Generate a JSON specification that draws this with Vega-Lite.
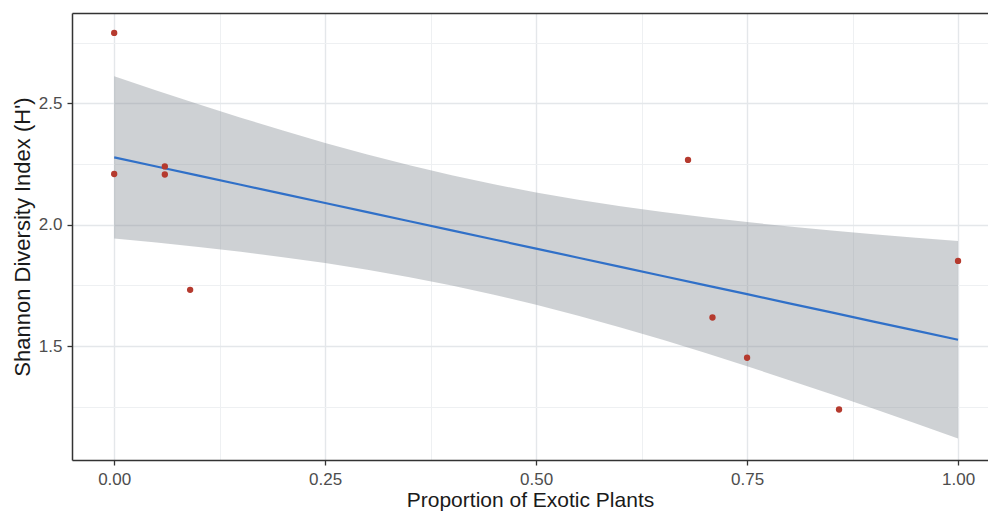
{
  "$schema": "https://vega.github.io/schema/vega-lite/v6.json",
  "width": 916,
  "height": 447,
  "autosize": {"type": "none"},
  "padding": {"left": 72, "top": 13, "right": 0, "bottom": 54},
  "background": "white",
  "config": {"view": {"stroke": null}, "font": "Liberation Sans"},
  "datasets": {
    "points": [
      {"x": 0.0, "y": 2.79},
      {"x": 0.0, "y": 2.209},
      {"x": 0.06, "y": 2.24},
      {"x": 0.06, "y": 2.207},
      {"x": 0.09, "y": 1.732},
      {"x": 0.68, "y": 2.267},
      {"x": 0.709, "y": 1.618},
      {"x": 0.75, "y": 1.452},
      {"x": 0.859, "y": 1.239},
      {"x": 1.0, "y": 1.851}
    ],
    "band": [
      {"x": 0.0, "fit": 2.2773, "lo": 1.943, "hi": 2.611},
      {"x": 0.05, "fit": 2.2397, "lo": 1.9265, "hi": 2.5529},
      {"x": 0.1, "fit": 2.2022, "lo": 1.9083, "hi": 2.4961},
      {"x": 0.15, "fit": 2.1646, "lo": 1.8884, "hi": 2.4408},
      {"x": 0.2, "fit": 2.1271, "lo": 1.8664, "hi": 2.3878},
      {"x": 0.25, "fit": 2.0895, "lo": 1.8419, "hi": 2.3371},
      {"x": 0.3, "fit": 2.0519, "lo": 1.8146, "hi": 2.2892},
      {"x": 0.35, "fit": 2.0144, "lo": 1.784, "hi": 2.2448},
      {"x": 0.4, "fit": 1.9768, "lo": 1.7499, "hi": 2.2037},
      {"x": 0.45, "fit": 1.9393, "lo": 1.7121, "hi": 2.1665},
      {"x": 0.5, "fit": 1.9017, "lo": 1.6705, "hi": 2.1329},
      {"x": 0.55, "fit": 1.8641, "lo": 1.6253, "hi": 2.1029},
      {"x": 0.6, "fit": 1.8266, "lo": 1.5771, "hi": 2.0761},
      {"x": 0.65, "fit": 1.789, "lo": 1.526, "hi": 2.052},
      {"x": 0.7, "fit": 1.7515, "lo": 1.4726, "hi": 2.0304},
      {"x": 0.75, "fit": 1.7139, "lo": 1.417, "hi": 2.0108},
      {"x": 0.8, "fit": 1.6763, "lo": 1.3598, "hi": 1.9928},
      {"x": 0.85, "fit": 1.6388, "lo": 1.3013, "hi": 1.9763},
      {"x": 0.9, "fit": 1.6012, "lo": 1.2416, "hi": 1.9608},
      {"x": 0.95, "fit": 1.5637, "lo": 1.181, "hi": 1.9464},
      {"x": 1.0, "fit": 1.5261, "lo": 1.1196, "hi": 1.9326}
    ]
  },
  "resolve": {"axis": {"x": "independent"}},
  "layer": [
    {
      "data": {"name": "band"},
      "mark": {"type": "area", "fill": "#858d94", "opacity": 0.4},
      "encoding": {
        "x": {
          "field": "x", "type": "quantitative",
          "scale": {"domain": [-0.05, 1.0355], "nice": false, "zero": false},
          "axis": {
            "orient": "bottom",
            "title": "Proportion of Exotic Plants",
            "values": [0, 0.125, 0.25, 0.375, 0.5, 0.625, 0.75, 0.875, 1],
            "labelExpr": "datum.value % 0.25 == 0 ? format(datum.value, '.2f') : ''",
            "grid": true,
            "gridColor": {"condition": {"test": "datum.value % 0.25 != 0", "value": "#eef0f2"}, "value": "#e4e7ea"},
            "gridWidth": {"condition": {"test": "datum.value % 0.25 != 0", "value": 1.1}, "value": 1.4},
            "tickOpacity": {"condition": {"test": "datum.value % 0.25 != 0", "value": 0}, "value": 1},
            "tickColor": "#333333", "tickSize": 5, "tickWidth": 1.3,
            "domainColor": "#333333", "domainWidth": 1.5,
            "labelFont": "Liberation Sans", "labelFontSize": 17, "labelColor": "#4d4d4d",
            "labelPadding": 6, "labelFlush": false, "labelOverlap": false,
            "titleFont": "Liberation Sans", "titleFontSize": 21, "titleFontWeight": "normal",
            "titleColor": "#1a1a1a", "titlePadding": 2
          }
        },
        "y": {
          "field": "lo", "type": "quantitative",
          "scale": {"domain": [1.031, 2.872], "nice": false, "zero": false},
          "axis": {
            "orient": "left",
            "title": "Shannon Diversity Index (H')",
            "values": [1.25, 1.5, 1.75, 2.0, 2.25, 2.5, 2.75],
            "labelExpr": "datum.value % 0.5 == 0 ? format(datum.value, '.1f') : ''",
            "grid": true,
            "gridColor": {"condition": {"test": "datum.value % 0.5 != 0", "value": "#eef0f2"}, "value": "#e4e7ea"},
            "gridWidth": {"condition": {"test": "datum.value % 0.5 != 0", "value": 1.1}, "value": 1.4},
            "tickOpacity": {"condition": {"test": "datum.value % 0.5 != 0", "value": 0}, "value": 1},
            "tickColor": "#333333", "tickSize": 5, "tickWidth": 1.3,
            "domainColor": "#333333", "domainWidth": 1.5,
            "labelFont": "Liberation Sans", "labelFontSize": 17, "labelColor": "#4d4d4d",
            "labelPadding": 5, "labelFlush": false, "labelOverlap": false,
            "titleFont": "Liberation Sans", "titleFontSize": 22, "titleFontWeight": "normal",
            "titleColor": "#1a1a1a", "titlePadding": 4
          }
        },
        "y2": {"field": "hi"}
      }
    },
    {
      "data": {"name": "band"},
      "mark": {"type": "line", "color": "#3070c8", "strokeWidth": 2.2},
      "encoding": {
        "x": {
          "field": "x", "type": "quantitative",
          "axis": {
            "orient": "top", "title": null, "labels": false, "ticks": false,
            "grid": false, "domain": true, "domainColor": "#333333", "domainWidth": 1.5
          }
        },
        "y": {"field": "fit", "type": "quantitative"}
      }
    },
    {
      "data": {"name": "points"},
      "mark": {"type": "circle", "color": "#b53a2e", "size": 40, "opacity": 1},
      "encoding": {
        "x": {"field": "x", "type": "quantitative", "axis": null},
        "y": {"field": "y", "type": "quantitative"}
      }
    }
  ]
}
